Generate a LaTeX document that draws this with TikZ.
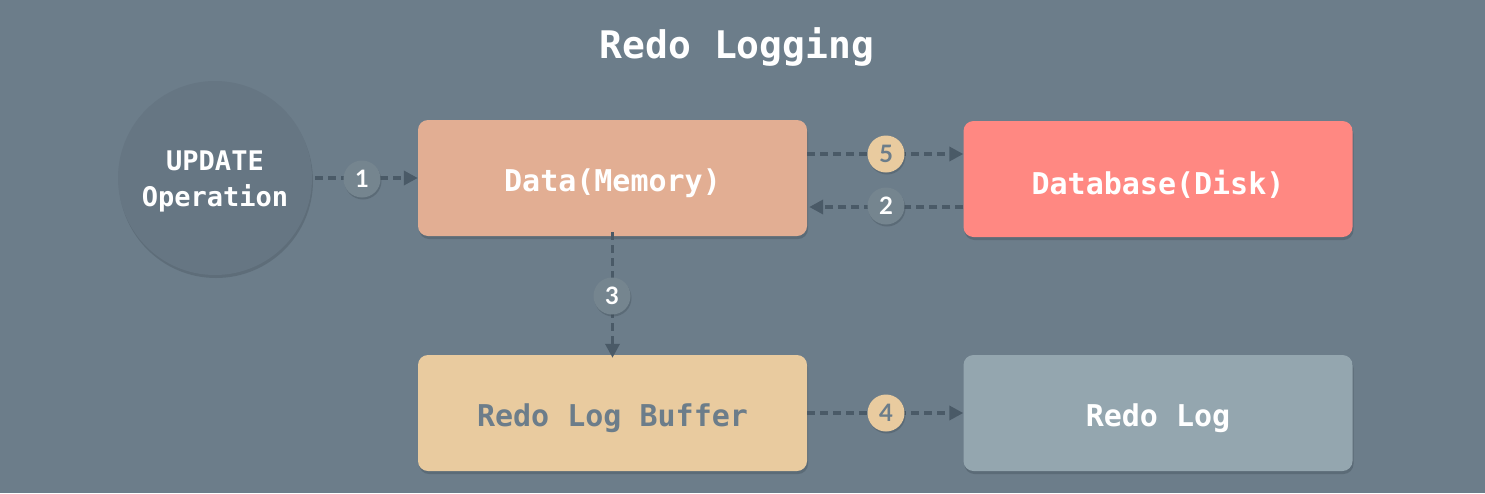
\documentclass[tikz,border=0pt]{standalone}
\usepackage{fontspec}
\setmonofont{DejaVu Sans Mono}
\newfontfamily\badgefont{Lato}
\usetikzlibrary{shadows,arrows.meta}
\definecolor{bg}{HTML}{6C7D8A}
\definecolor{circfill}{HTML}{667683}
\definecolor{datafill}{HTML}{E2AE93}
\definecolor{diskfill}{HTML}{FF8882}
\definecolor{buffill}{HTML}{E9CB9F}
\definecolor{logfill}{HTML}{94A6AF}
\definecolor{badgegray}{HTML}{75858F}
\definecolor{arrowc}{HTML}{4A5A67}
\definecolor{shadowc}{HTML}{3E4B55}
\newcommand{\lowtxt}[2][5pt]{\raisebox{-#1}[\height][\depth]{#2}}
\tikzset{
  x=1pt,y=-1pt,
  boxstyle/.style={rectangle,rounded corners=10pt,minimum width=389pt,minimum height=116pt,
    inner sep=0pt,font=\ttfamily\bfseries\fontsize{30}{32}\selectfont,text=white,
    drop shadow={shadow xshift=1pt,shadow yshift=-3pt,opacity=0.35,fill=shadowc}},
  badge/.style={circle,minimum size=37pt,inner sep=0pt,fill=badgegray,text=white,
    font=\badgefont\bfseries\fontsize{24}{24}\selectfont,
    drop shadow={shadow xshift=1pt,shadow yshift=-2pt,opacity=0.35,fill=shadowc}},
  ybadge/.style={badge,fill=buffill,text=bg},
  conn/.style={draw=arrowc,line width=3.5pt,dash pattern=on 8pt off 5pt,
    -{Triangle[length=14pt,width=14pt]}},
}
\begin{document}
\begin{tikzpicture}
\fill[bg] (0,0) rectangle (1485,493);
\useasboundingbox (0,0) rectangle (1485,493);
\node[font=\ttfamily\bfseries\fontsize{38}{40}\selectfont,text=white] (title) at (737,47) {Redo Logging};
\node[circle,minimum size=194pt,inner sep=0pt,fill=circfill,text=white,align=center,
  font=\ttfamily\bfseries\fontsize{27}{36}\selectfont,
  drop shadow={shadow xshift=1pt,shadow yshift=-3pt,opacity=0.3,fill=shadowc}] (upd) at (215,178) {\lowtxt[3pt]{UPDATE}\\\lowtxt[3pt]{Operation}};
\node[boxstyle,fill=datafill] (mem) at (612.5,178) {\lowtxt{Data(Memory)}};
\node[boxstyle,fill=diskfill] (disk) at (1158,179) {\lowtxt{Database(Disk)}};
\node[boxstyle,fill=buffill,text=bg] (buf) at (612.5,413) {\lowtxt{Redo Log Buffer}};
\node[boxstyle,fill=logfill] (log) at (1158,413) {\lowtxt{Redo Log}};
\coordinate (m5) at ([yshift=24pt]mem.east);
\coordinate (d5) at (disk.west |- m5);
\coordinate (d2) at ([yshift=-28pt]disk.west);
\coordinate (m2) at (mem.east |- d2);
\draw[conn] ([xshift=3pt]upd.east) -- (mem.west |- upd.east);
\draw[conn] (m5) -- (d5);
\draw[conn] (d2) -- ([xshift=2pt]m2);
\draw[conn] ([yshift=4pt]mem.south) -- ([yshift=-3pt]buf.north);
\draw[conn] (buf.east) -- (log.west);
\node[badge] (b1) at (362,179) {1};
\node[badge] (b2) at (886,206) {2};
\node[badge] (b3) at (612,296) {3};
\node[ybadge] (b4) at (886,413) {4};
\node[ybadge] (b5) at (886,154) {5};
\end{tikzpicture}
\end{document}
